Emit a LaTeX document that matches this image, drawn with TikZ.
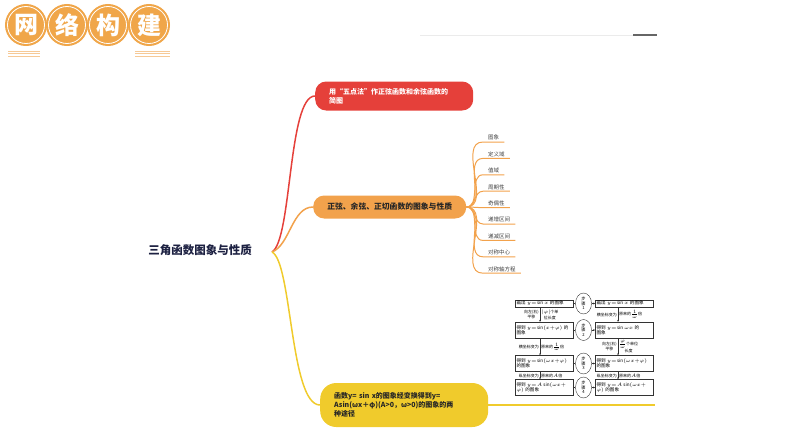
\documentclass[tikz,border=0pt]{standalone}
\usepackage{fontspec}
\setmainfont{Noto Sans CJK SC}
\usetikzlibrary{shapes.geometric,arrows.meta}
\definecolor{mmred}{HTML}{E5403A}
\definecolor{mmorange}{HTML}{F2A24C}
\definecolor{mmyellow}{HTML}{F0CB2C}
\definecolor{ttorange}{HTML}{F0A649}
\definecolor{ttline}{HTML}{F6C996}
\definecolor{rootblue}{HTML}{1D2142}
\definecolor{fline}{HTML}{333333}

\begin{document}
\begin{tikzpicture}[x=1pt,y=-1pt,
  titlecirc/.style={circle,fill=ttorange,draw=white,line width=0.8,
    preaction={draw=ttorange,line width=5},minimum size=37,inner sep=0,
    text=white,font=\fontsize{24}{24}\selectfont\bfseries},
  mainnode/.style={rounded corners=11,inner xsep=14,inner ysep=4,align=left,
    font=\fontsize{7}{9}\selectfont\bfseries,anchor=west},
  branch/.style={line width=1.5},
  leaf/.style={anchor=south west,inner xsep=5,inner ysep=1.5,text=black!75,
    font=\fontsize{5.5}{6}\selectfont},
  fbox/.style={draw=fline,line width=0.4,text width=55,inner xsep=1.2,inner ysep=1.2,
    align=left,font=\fontsize{4.6}{5.4}\selectfont,
    execute at begin node={\medmuskip=0mu \thickmuskip=1mu \relax}},
  stepoval/.style={ellipse,draw=fline,line width=0.4,minimum width=16,minimum height=21,
    inner sep=0,align=center,font=\fontsize{4.2}{4.6}\selectfont},
  tag/.style={inner sep=1,align=center,font=\fontsize{4}{4.6}\selectfont},
  farrow/.style={draw=fline,line width=0.4,-{Stealth[length=2pt,width=1.8pt]}}]
\useasboundingbox (0,0) rectangle (794,447);

\foreach \c [count=\i] in {网,络,构,建}
  \node[titlecirc] (tt\i) at ({-15+41*\i},25) {\c};
\foreach \d in {0,2.5,5} {
  \draw[ttline,line width=0.8] (8,{51+\d}) -- (40,{51+\d});
  \draw[ttline,line width=0.8] (135,{51+\d}) -- (170,{51+\d});
}
\draw[black!8,line width=1] (420,35) -- (633,35);
\draw[black!60,line width=1.8] (633,35) -- (657,35);

\node[text=rootblue,font=\fontsize{11.5}{12}\selectfont\bfseries] (root) at (200,250) {三角函数图象与性质};
\coordinate (hub) at (272,252);

\node[mainnode,fill=mmred,text=white,text width=130,minimum height=29] (rn) at (315,96)
  {用“五点法”作正弦函数和余弦函数的\\简图};
\node[mainnode,fill=mmorange,text=black!85,align=center,minimum width=153,minimum height=23,
  font=\fontsize{7.8}{9}\selectfont\bfseries] (on) at (313,207) {正弦、余弦、正切函数的图象与性质};
\node[mainnode,fill=mmyellow,text=black!85,text width=140,minimum height=44,rounded corners=16] (yn) at (320,405)
  {函数y= sin x的图象经变换得到y=\\Asin(ωx＋φ)(A>0，ω>0)的图象的两\\种途径};
\coordinate (yend) at (655,405);

\draw[branch,mmred] (hub) .. controls (292,240) and (288,96) .. (rn.west);
\draw[branch,mmorange] (hub) .. controls (290,245) and (292,207) .. (on.west);
\draw[branch,mmyellow] (hub) .. controls (292,262) and (290,405) .. (yn.west);
\draw[mmyellow,line width=1.2] (yn.east) -- (yend);

\foreach \t [count=\i] in {图象,定义域,值域,周期性,奇偶性,递增区间,递减区间,对称中心,对称轴方程} {
  \node[leaf] (lf\i) at (483,{125.6+16.4*\i}) {\t};
  \draw[mmorange,line width=1] (on.east) to[out=0,in=180] (lf\i.south west) -- (lf\i.south east);
}

\node[fbox] (l1) at (544,303.5) {画出 $y=\sin x$ 的图象};
\node[fbox] (r1) at (624,303.5) {画出 $y=\sin x$ 的图象};
\node[fbox,minimum height=16] (l2) at (544,330) {得到 $y=\sin(x+\varphi)$ 的\\图象};
\node[fbox,minimum height=16] (r2) at (624,330) {得到 $y=\sin\omega x$ 的\\图象};
\node[fbox,minimum height=16] (l3) at (544,363.5) {得到 $y=\sin(\omega x+\varphi)$\\的图象};
\node[fbox,minimum height=16] (r3) at (624,363.5) {得到 $y=\sin(\omega x+\varphi)$\\的图象};
\node[fbox,minimum height=16] (l4) at (544,387.5) {得到 $y=A\sin(\omega x+$\\$\varphi)$ 的图象};
\node[fbox,minimum height=16] (r4) at (624,387.5) {得到 $y=A\sin(\omega x+$\\$\varphi)$ 的图象};

\foreach \i/\y in {1/303.5,2/330,3/363.5,4/387.5} {
  \node[stepoval] (s\i) at (583.5,\y) {步\\骤\\\i};
  \draw[fline,line width=0.4] (l\i) -- (s\i);
  \draw[farrow] (s\i) -- (r\i);
}

\draw[farrow] ([xshift=-4]l1.south) -- node[tag,left] (ta1) {向左(右)\\平移}
  node[tag,right] (tb1) {$|\varphi|$个单\\位长度} ([xshift=-4]l2.north);
\draw[farrow] ([xshift=-6]r1.south) -- node[tag,left] (tc1) {横坐标变为}
  node[tag,right] (td1) {原来的$\frac{1}{\omega}$倍} ([xshift=-6]r2.north);
\draw[farrow] ([xshift=-4]l2.south) -- node[tag,left] (ta2) {横坐标变为}
  node[tag,right] (tb2) {原来的$\frac{1}{\omega}$倍} ([xshift=-4]l3.north);
\draw[farrow] ([xshift=-6]r2.south) -- node[tag,left] (tc2) {向左(右)\\平移}
  node[tag,right] (td2) {$\frac{\varphi}{\omega}$个单位\\长度} ([xshift=-6]r3.north);
\draw[farrow] ([xshift=-4]l3.south) -- node[tag,left] (ta3) {纵坐标变为}
  node[tag,right] (tb3) {原来的$A$倍} ([xshift=-4]l4.north);
\draw[farrow] ([xshift=-6]r3.south) -- node[tag,left] (tc3) {纵坐标变为}
  node[tag,right] (td3) {原来的$A$倍} ([xshift=-6]r4.north);
\end{tikzpicture}
\end{document}
